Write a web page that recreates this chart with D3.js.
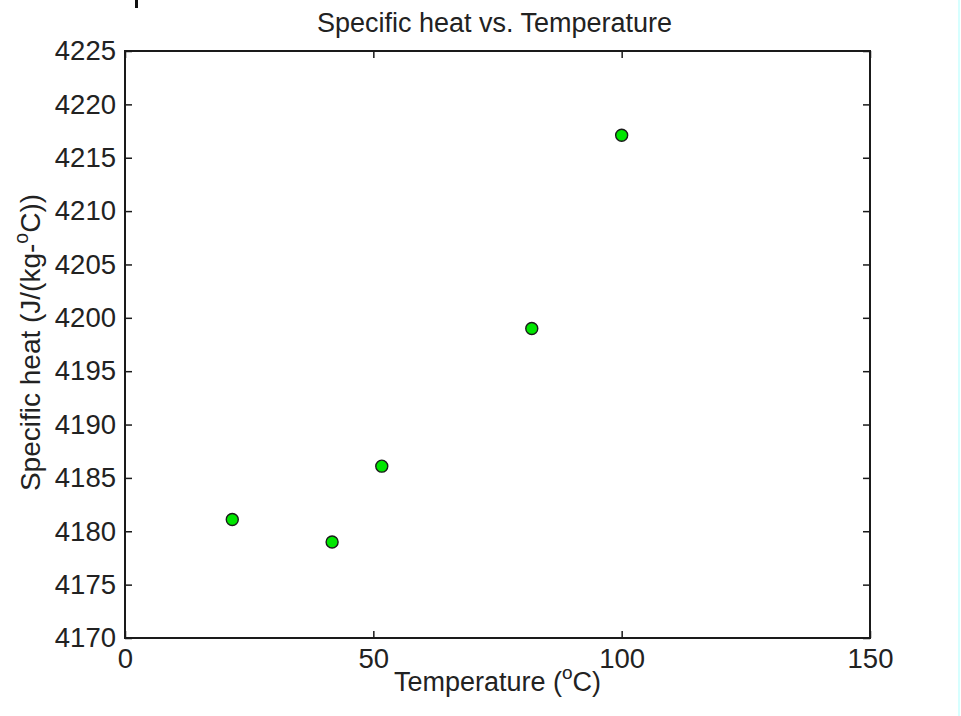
<!DOCTYPE html>
<html>
<head>
<meta charset="utf-8">
<script src="https://cdn.jsdelivr.net/npm/d3@7/dist/d3.min.js"></script>
<style>
  html, body { margin: 0; padding: 0; background: #ffffff; }
  svg { display: block; }
  text { font-family: "Liberation Sans", Arial, Helvetica, sans-serif; fill: #222; }
</style>
</head>
<body>
<script>
// ---- data ----
const temperatures = [21.6, 41.7, 51.7, 81.9, 100];          // °C
const specificHeat = [4181.1, 4179.0, 4186.1, 4199.0, 4217.1]; // J/(kg-°C)
const xTicks = [0, 50, 100, 150];
const yTicks = [4170, 4175, 4180, 4185, 4190, 4195, 4200, 4205, 4210, 4215, 4220, 4225];
const titleText = "Specific heat vs. Temperature";

const W = 961, H = 716;
const margin = { left: 125, top: 51, right: W - 870, bottom: H - 638 };
const pw = W - margin.left - margin.right;
const ph = H - margin.top - margin.bottom;

const svg = d3.select("body").append("svg").attr("width", W).attr("height", H);

// right-side light cyan strip
svg.append("rect").attr("x", 958).attr("y", 0).attr("width", 2).attr("height", H).attr("fill", "#d6ffff");
// cropped glyph fragment at top-left
svg.append("rect").attr("x", 135).attr("y", 0).attr("width", 3).attr("height", 8).attr("fill", "#111");

const g = svg.append("g").attr("transform", `translate(${margin.left},${margin.top})`);

const x = d3.scaleLinear().domain([0, 150]).range([0, pw]);
const y = d3.scaleLinear().domain([4170, 4225]).range([ph, 0]);

const fontSize = 27.5;

// left axis
const yAxis = g.append("g").call(
  d3.axisLeft(y).tickValues(yTicks).tickFormat(d3.format("d"))
    .tickSizeInner(-7).tickSizeOuter(0).tickPadding(9)
);
// bottom axis
const xAxis = g.append("g").attr("transform", `translate(0,${ph})`).call(
  d3.axisBottom(x).tickValues(xTicks).tickFormat(d3.format("d"))
    .tickSizeInner(-7).tickSizeOuter(0).tickPadding(10)
);
// top / right mirrored ticks
const topAxis = g.append("g").call(
  d3.axisTop(x).tickValues(xTicks).tickFormat("").tickSizeInner(-7).tickSizeOuter(0)
);
const rightAxis = g.append("g").attr("transform", `translate(${pw},0)`).call(
  d3.axisRight(y).tickValues(yTicks).tickFormat("").tickSizeInner(-7).tickSizeOuter(0)
);

[yAxis, xAxis, topAxis, rightAxis].forEach(a => {
  a.selectAll(".domain").remove();
  a.selectAll(".tick line").attr("stroke", "#1a1a1a").attr("stroke-width", 1.5);
  a.selectAll(".tick text").attr("font-size", fontSize).attr("fill", "#222")
    .attr("font-family", "'Liberation Sans', Arial, sans-serif");
});

// box
g.append("rect").attr("x", 0).attr("y", 0).attr("width", pw).attr("height", ph)
  .attr("fill", "none").attr("stroke", "#1a1a1a").attr("stroke-width", 2);

// points
g.selectAll("circle.pt").data(temperatures.map((t, i) => [t, specificHeat[i]]))
  .enter().append("circle").attr("class", "pt")
  .attr("cx", d => x(d[0])).attr("cy", d => y(d[1])).attr("r", 6)
  .attr("fill", "#00e600").attr("stroke", "#1a1a1a").attr("stroke-width", 1.4);

// title
svg.append("text").attr("x", margin.left + pw / 2 - 3).attr("y", 32)
  .attr("text-anchor", "middle").attr("font-size", 27).text(titleText);

// x label
const xl = svg.append("text").attr("x", margin.left + pw / 2).attr("y", 691)
  .attr("text-anchor", "middle").attr("font-size", 27);
xl.append("tspan").text("Temperature (");
xl.append("tspan").attr("font-size", 19).attr("dy", -12).text("o");
xl.append("tspan").attr("dy", 12).text("C)");

// y label
const yl = svg.append("text")
  .attr("transform", `translate(40,${margin.top + ph / 2 - 2}) rotate(-90)`)
  .attr("text-anchor", "middle").attr("font-size", 28);
yl.append("tspan").text("Specific heat (J/(kg-");
yl.append("tspan").attr("font-size", 19.5).attr("dy", -12).text("o");
yl.append("tspan").attr("dy", 12).text("C))");
</script>
</body>
</html>
